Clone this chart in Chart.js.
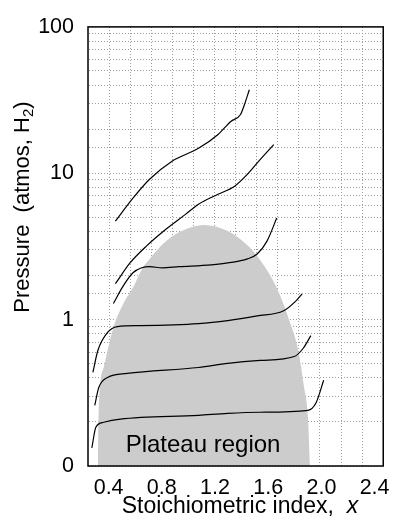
<!DOCTYPE html>
<html>
<head>
<meta charset="utf-8">
<script src="https://cdn.jsdelivr.net/npm/chart.js@4/dist/chart.umd.min.js"></script>
<style>
  html, body { margin: 0; padding: 0; background: #ffffff; }
  #wrap { width: 399px; height: 521px; }
</style>
</head>
<body>
<div id="wrap"><canvas id="c" width="399" height="521"></canvas></div>
<script>
// ---- Data ----
// Plateau (two-phase) region envelope
const domeX = [0.319, 0.326, 0.363, 0.436, 0.510, 0.583, 0.657, 0.708, 0.833, 0.966, 1.113, 1.296, 1.407, 1.517, 1.664, 1.760, 1.826, 1.870, 1.899, 1.914];
const domeY = [0.10, 0.252, 0.471, 0.883, 1.285, 1.65, 2.26, 2.60, 3.44, 4.09, 4.43, 4.03, 3.44, 2.72, 1.65, 0.98, 0.615, 0.344, 0.215, 0.10];

// Isotherms (top to bottom)
const iso1X = [0.451, 0.583, 0.708, 0.877, 1.076, 1.223, 1.319, 1.392, 1.421, 1.458];
const iso1Y = [4.71, 6.76, 9.10, 12.1, 14.8, 18.4, 22.6, 25.2, 29.4, 37.2];

const iso2X = [0.451, 0.561, 0.686, 0.833, 0.980, 1.076, 1.223, 1.348, 1.444, 1.539, 1.642];
const iso2Y = [1.76, 2.44, 3.19, 4.16, 5.26, 6.15, 7.19, 8.16, 9.85, 12.4, 15.7];

const iso3X = [0.436, 0.510, 0.583, 0.649, 0.708, 0.804, 0.929, 1.172, 1.296, 1.444, 1.517, 1.591, 1.664];
const iso3Y = [1.29, 1.70, 2.09, 2.26, 2.30, 2.26, 2.30, 2.37, 2.44, 2.60, 2.81, 3.44, 4.94];

const iso4X = [0.282, 0.319, 0.392, 0.466, 0.635, 1.076, 1.296, 1.517, 1.716, 1.811, 1.855];
const iso4Y = [0.436, 0.615, 0.817, 0.896, 0.910, 0.939, 0.985, 1.06, 1.15, 1.35, 1.50];

const iso5X = [0.296, 0.326, 0.392, 0.539, 1.076, 1.296, 1.539, 1.796, 1.862, 1.921];
const iso5Y = [0.260, 0.344, 0.403, 0.429, 0.471, 0.502, 0.526, 0.560, 0.635, 0.778];

const iso6X = [0.274, 0.304, 0.363, 0.488, 1.076, 1.296, 1.539, 1.899, 1.958, 2.017];
const iso6Y = [0.133, 0.184, 0.199, 0.209, 0.222, 0.229, 0.233, 0.240, 0.268, 0.385];

// Tick labels
const xTickValues = [0.4, 0.8, 1.2, 1.6, 2.0, 2.4];
const xTickLabels = ['0.4', '0.8', '1.2', '1.6', '2.0', '2.4'];
const yTickValues = [0.1, 1, 10, 100];
const yTickLabels = ['0', '1', '10', '100'];

const regionLabel = 'Plateau region';
const xTitleMain = 'Stoichiometric index,  ';
const xTitleVar = 'x';
const yTitleMain = 'Pressure  (atmos, H';
const yTitleSub = '2';
const yTitleEnd = ')';

// ---- Chart ----
const FONT = "'Liberation Sans', Arial, Helvetica, sans-serif";
const X_MIN = 0.245, X_MAX = 2.465, GRID_COLS = 14;
const GRID_COLOR = '#9c9c9c';

const toPts = (xs, ys) => xs.map((x, i) => ({ x: x, y: ys[i] }));

const isoStyle = {
  borderColor: '#000000',
  borderWidth: 1.2,
  pointRadius: 0,
  fill: false,
  cubicInterpolationMode: 'monotone'
};

const datasets = [
  Object.assign({ data: toPts(iso1X, iso1Y) }, isoStyle),
  Object.assign({ data: toPts(iso2X, iso2Y) }, isoStyle),
  Object.assign({ data: toPts(iso3X, iso3Y) }, isoStyle),
  Object.assign({ data: toPts(iso4X, iso4Y) }, isoStyle),
  Object.assign({ data: toPts(iso5X, iso5Y) }, isoStyle),
  Object.assign({ data: toPts(iso6X, iso6Y) }, isoStyle),
  {
    data: toPts(domeX, domeY),
    borderWidth: 0,
    borderColor: 'rgba(0,0,0,0)',
    backgroundColor: '#cccccc',
    pointRadius: 0,
    fill: 'start',
    cubicInterpolationMode: 'monotone'
  }
];

const decorPlugin = {
  id: 'decor',
  afterDatasetsDraw(chart) {
    const ctx = chart.ctx;
    const a = chart.chartArea;
    const xs = chart.scales.x, ys = chart.scales.y;
    ctx.save();
    // Region label
    ctx.fillStyle = '#000';
    ctx.font = '24px ' + FONT;
    ctx.textAlign = 'center';
    ctx.textBaseline = 'alphabetic';
    ctx.fillText(regionLabel, xs.getPixelForValue(1.11), ys.getPixelForValue(0.125));
    // Frame
    ctx.strokeStyle = '#000';
    ctx.lineWidth = 1.5;
    ctx.strokeRect(a.left, a.top, a.right - a.left, a.bottom - a.top);
    ctx.restore();
  },
  afterDraw(chart) {
    const ctx = chart.ctx;
    ctx.save();
    ctx.fillStyle = '#000';
    ctx.textBaseline = 'middle';
    // X title with italic variable
    const fMain = '23px ' + FONT;
    const fIt = 'italic 23px ' + FONT;
    ctx.font = fMain;
    const w1 = ctx.measureText(xTitleMain).width;
    ctx.font = fIt;
    const w2 = ctx.measureText(xTitleVar).width;
    const x0 = 240 - (w1 + w2) / 2;
    const yT = 507;
    ctx.textAlign = 'left';
    ctx.font = fMain; ctx.fillText(xTitleMain, x0, yT);
    ctx.font = fIt; ctx.fillText(xTitleVar, x0 + w1, yT);
    // Y title rotated with subscript
    ctx.translate(23, 207);
    ctx.rotate(-Math.PI / 2);
    const fY = '22px ' + FONT;
    const fSub = '15px ' + FONT;
    ctx.font = fY;
    const a1 = ctx.measureText(yTitleMain).width;
    const a3 = ctx.measureText(yTitleEnd).width;
    ctx.font = fSub;
    const a2 = ctx.measureText(yTitleSub).width;
    const s = -(a1 + a2 + a3) / 2;
    ctx.font = fY; ctx.fillText(yTitleMain, s, 0);
    ctx.font = fSub; ctx.fillText(yTitleSub, s + a1, 6);
    ctx.font = fY; ctx.fillText(yTitleEnd, s + a1 + a2, 0);
    ctx.restore();
  }
};

new Chart(document.getElementById('c'), {
  type: 'line',
  data: { datasets: datasets },
  options: {
    responsive: false,
    animation: false,
    events: [],
    layout: { padding: { top: 25, right: 10, left: 0, bottom: 0 } },
    plugins: { legend: { display: false }, tooltip: { enabled: false } },
    scales: {
      x: {
        type: 'linear',
        min: X_MIN, max: X_MAX,
        afterBuildTicks(scale) { scale.ticks = xTickValues.map(v => ({ value: v })); },
        afterFit(scale) { scale.height = 55; },
        grid: { display: false, drawTicks: false },
        border: { display: false },
        ticks: {
          autoSkip: false, maxRotation: 0, padding: 9,
          color: '#000', font: { family: FONT, size: 21.5 },
          callback: (v) => { const i = xTickValues.indexOf(v); return i >= 0 ? xTickLabels[i] : ''; }
        }
      },
      xg: {
        type: 'linear', position: 'top', display: true,
        min: X_MIN, max: X_MAX,
        afterBuildTicks(scale) {
          const t = [];
          for (let i = 1; i < GRID_COLS; i++) t.push({ value: X_MIN + (X_MAX - X_MIN) * i / GRID_COLS });
          scale.ticks = t;
        },
        afterFit(scale) { scale.height = 0; },
        grid: { display: true, drawTicks: false, color: GRID_COLOR, lineWidth: 1 },
        border: { display: true, color: 'rgba(0,0,0,0)', dash: [1, 2] },
        ticks: { display: false }
      },
      y: {
        type: 'logarithmic',
        min: 0.1, max: 100,
        afterFit(scale) { scale.width = 88; },
        grid: { display: true, drawTicks: false, color: GRID_COLOR, lineWidth: 1 },
        border: { display: true, color: 'rgba(0,0,0,0)', dash: [1, 2] },
        ticks: {
          autoSkip: false, padding: 14,
          color: '#000', font: { family: FONT, size: 21.5 },
          callback: (v) => { const i = yTickValues.findIndex(t => Math.abs(t - v) < 1e-9); return i >= 0 ? yTickLabels[i] : ''; }
        }
      }
    }
  },
  plugins: [decorPlugin]
});
</script>
</body>
</html>
